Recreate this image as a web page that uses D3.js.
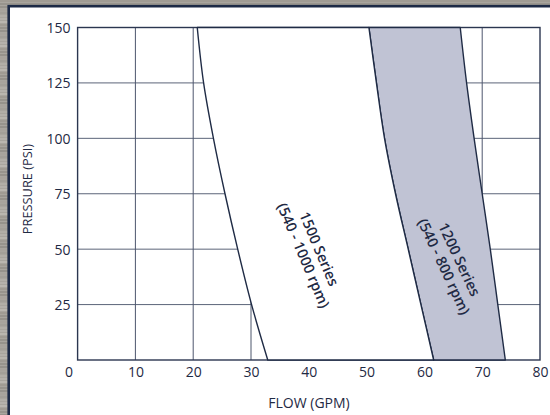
<!DOCTYPE html>
<html>
<head>
<meta charset="utf-8">
<script src="https://cdn.jsdelivr.net/npm/d3@7"></script>
<style>
  html, body { margin: 0; padding: 0; background: #a9a59e; }
  svg { display: block; }
  text { font-family: "Open Sans", "DejaVu Sans", sans-serif; fill: #1f2a44; }
</style>
</head>
<body>
<script>
// ---- data ----
const xTicks = [0, 10, 20, 30, 40, 50, 60, 70, 80];
const yTicks = [25, 50, 75, 100, 125, 150];
const pressure = [150, 125, 100, 75, 50, 25, 0];
const flow1500Left = [20.7, 21.8, 23.5, 25.5, 27.7, 30.1, 32.9];
const flow1200Left = [50.4, 51.7, 53.1, 55.0, 57.2, 59.4, 61.6];
const flow1200Right = [66.2, 67.3, 68.6, 70.0, 71.4, 72.7, 74.0];
const labels = [
  { lines: ["1500 Series", "(540 - 1000 rpm)"], x: 40.4, y: 48.6, angle: 67 },
  { lines: ["1200 Series", "(540 - 800 rpm)"], x: 64.7, y: 43.7, angle: 65 }
];
const stripeShades = ["#9c978f", "#b6b2ab", "#8f8a83", "#c2beb7", "#a19c95", "#928d86", "#bbb7b0", "#a8a39b"];

// ---- setup ----
const W = 550, H = 415;
const svg = d3.select("body").append("svg").attr("width", W).attr("height", H);

// textured background
svg.append("rect").attr("width", W).attr("height", H).attr("fill", "#a9a59e");
svg.selectAll("rect.stripe").data(d3.range(0, H, 3)).join("rect")
  .attr("class", "stripe")
  .attr("x", 0).attr("y", d => d).attr("width", W).attr("height", 2)
  .attr("fill", (d, i) => stripeShades[(i * 5) % stripeShades.length])
  .attr("opacity", 0.7);

// white panel
svg.append("rect")
  .attr("x", 8.7).attr("y", 6.2).attr("width", W).attr("height", H)
  .attr("fill", "#ffffff").attr("stroke", "#1c2945").attr("stroke-width", 2.6);

const x = d3.scaleLinear().domain([0, 80]).range([77.6, 540]);
const y = d3.scaleLinear().domain([0, 150]).range([360, 27.5]);

const g = svg.append("g");

// gridlines
g.selectAll("line.hgrid").data(yTicks.filter(v => v < 150)).join("line")
  .attr("x1", x(0)).attr("x2", x(80))
  .attr("y1", d => y(d)).attr("y2", d => y(d))
  .attr("stroke", "#5b6479").attr("stroke-width", 1);
g.selectAll("line.vgrid").data(xTicks.filter(v => v > 0 && v < 80)).join("line")
  .attr("x1", d => x(d)).attr("x2", d => x(d))
  .attr("y1", y(0)).attr("y2", y(150))
  .attr("stroke", "#4d566d").attr("stroke-width", 1);

// frame
g.append("rect")
  .attr("x", x(0)).attr("y", y(150))
  .attr("width", x(80) - x(0)).attr("height", y(0) - y(150))
  .attr("fill", "none").attr("stroke", "#2b3650").attr("stroke-width", 1.4);

// regions: smooth edges joined by straight top/bottom
const edge = d3.line().x(d => x(d[0])).y(d => y(d[1])).curve(d3.curveCatmullRom.alpha(0.5));
function region(leftFlow, rightFlow) {
  const left = pressure.map((p, i) => [leftFlow[i], p]);            // top -> bottom
  const right = pressure.map((p, i) => [rightFlow[i], p]).reverse(); // bottom -> top
  return edge(left) + edge(right).replace(/^M/, "L") + "Z";
}

g.append("path").attr("d", region(flow1200Left, flow1200Right))
  .attr("fill", "#c0c3d4").attr("stroke", "#1f2b45").attr("stroke-width", 1.4)
  .attr("stroke-linejoin", "round");
g.append("path").attr("d", region(flow1500Left, flow1200Left))
  .attr("fill", "#ffffff").attr("stroke", "#1f2b45").attr("stroke-width", 1.4)
  .attr("stroke-linejoin", "round");

// region labels
labels.forEach(l => {
  const t = g.append("text")
    .attr("transform", `translate(${x(l.x)},${y(l.y)}) rotate(${l.angle})`)
    .attr("text-anchor", "middle")
    .attr("font-size", 14.5).attr("font-weight", 600);
  l.lines.forEach((s, i) => {
    t.append("tspan").attr("x", 0).attr("y", (i - 0.5) * 17 + 5).text(s);
  });
});

// axes (tick labels only)
const xAxis = d3.axisBottom(x).tickValues(xTicks).tickSize(0).tickPadding(0);
const xg = svg.append("g").attr("transform", `translate(0,${y(0)})`).call(xAxis);
xg.select(".domain").remove();
xg.selectAll("text")
  .attr("y", 17).attr("dy", 0)
  .attr("font-size", 14).attr("font-family", "Open Sans, sans-serif").attr("fill", "#1f2a44")
  .attr("dx", d => d === 0 ? -9 : 0);

const yAxis = d3.axisLeft(y).tickValues(yTicks).tickSize(0).tickPadding(7);
const yg = svg.append("g").attr("transform", `translate(${x(0)},0)`).call(yAxis);
yg.select(".domain").remove();
yg.selectAll("text")
  .attr("dy", "0.35em")
  .attr("font-size", 14).attr("font-family", "Open Sans, sans-serif").attr("fill", "#1f2a44");

// axis titles
svg.append("text")
  .attr("x", 309).attr("y", 408)
  .attr("text-anchor", "middle").attr("font-size", 14)
  .text("FLOW (GPM)");
svg.append("text")
  .attr("transform", `translate(31.5,189) rotate(-90)`)
  .attr("text-anchor", "middle").attr("font-size", 12.8)
  .text("PRESSURE (PSI)");
</script>
</body>
</html>
